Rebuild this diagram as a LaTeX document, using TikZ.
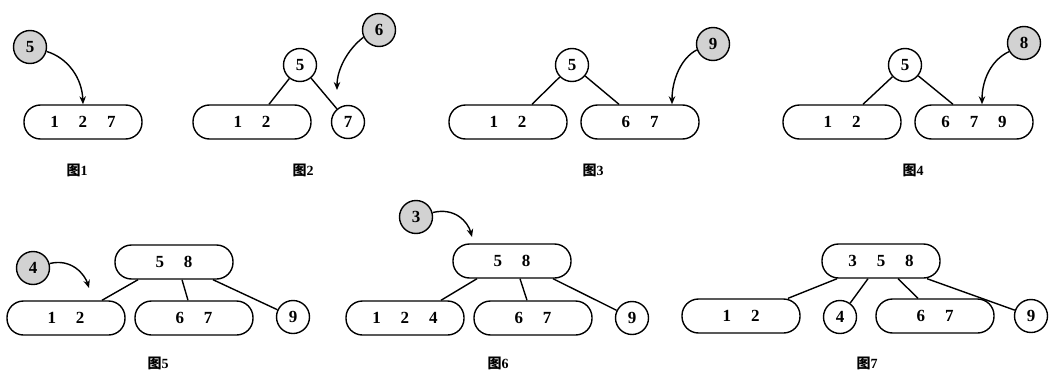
\documentclass[tikz,border=0pt]{standalone}
\usepackage{fontspec}
\setmainfont{Liberation Serif}
\newfontfamily\cjk{Noto Sans CJK SC}
\usetikzlibrary{arrows.meta,calc}
\begin{document}
\begin{tikzpicture}[x=1pt,y=-1pt,
  keybox/.style={draw, line width=1.4pt, rounded corners=16.5pt, minimum width=118pt, minimum height=34pt, inner sep=0pt, font=\fontsize{17}{17}\selectfont\bfseries},
  keycirc/.style={draw, circle, line width=1.4pt, minimum size=33pt, inner sep=0pt, font=\fontsize{17}{17}\selectfont\bfseries},
  newkey/.style={keycirc, fill=gray!35},
  edgeline/.style={line width=1.4pt},
  insarrow/.style={line width=1.4pt, -{Stealth[length=8pt,width=6.5pt]}},
  captext/.style={font=\fontsize{14}{14}\selectfont\bfseries}
]
\newcommand{\sep}{\hspace{20pt}}
\newcommand{\tu}[1]{{\cjk 图}#1}
\useasboundingbox (0,0) rectangle (1049,372);
% ---------- Fig 1
\node[newkey] (n1) at (30,47) {5};
\node[keybox] (b1) at (83,122) {1\sep2\sep7};
\draw[insarrow] (n1.-15) .. controls (68,58) and (82,78) .. (b1.north);
\node[captext] (f1) at (77,170) {\tu{1}};
% ---------- Fig 2
\node[newkey] (n2) at (379,30) {6};
\node[keycirc] (c2) at (300,65) {5};
\node[keybox] (b2) at (252,122) {1\sep2};
\node[keycirc] (c2b) at (348,122) {7};
\draw[edgeline] (c2) -- ($(b2.north)+(17,0)$);
\draw[edgeline] (c2) -- (c2b);
\coordinate (a2) at (337,90);
\draw[insarrow] (n2.205) .. controls (347,50) and (337,70) .. (a2);
\node[captext] (f2) at (303,170) {\tu{2}};
% ---------- Fig 3
\node[newkey] (n3) at (713,44) {9};
\node[keycirc] (c3) at (572,65) {5};
\node[keybox] (b3l) at (508,122) {1\sep2};
\node[keybox] (b3r) at (640,122) {6\sep7};
\draw[edgeline] (c3) -- ($(b3l.north)+(24,0)$);
\draw[edgeline] (c3) -- ($(b3r.north)+(-21,0)$);
\draw[insarrow] (n3.200) .. controls (681,58) and (672,80) .. ($(b3r.north)+(32,0)$);
\node[captext] (f3) at (593,170) {\tu{3}};
% ---------- Fig 4
\node[newkey] (n4) at (1024,43) {8};
\node[keycirc] (c4) at (905,65) {5};
\node[keybox] (b4l) at (842,122) {1\sep2};
\node[keybox] (b4r) at (974,122) {6\sep7\sep9};
\draw[edgeline] (c4) -- ($(b4l.north)+(21,0)$);
\draw[edgeline] (c4) -- ($(b4r.north)+(-21,0)$);
\draw[insarrow] (n4.210) .. controls (991,60) and (982,80) .. ($(b4r.north)+(8,0)$);
\node[captext] (f4) at (913,170) {\tu{4}};
% ---------- Fig 5
\node[newkey] (n5) at (33,268) {4};
\node[keybox] (t5) at (174,262) {5\sep8};
\node[keybox] (l5) at (66,318) {1\sep2};
\node[keybox] (m5) at (194,318) {6\sep7};
\node[keycirc] (r5) at (293,317) {9};
\draw[edgeline] ($(t5.south)+(-36,0)$) -- ($(l5.north)+(36,0)$);
\draw[edgeline] ($(t5.south)+(8,0)$) -- ($(m5.north)+(-6,0)$);
\draw[edgeline] ($(t5.south)+(39,0)$) -- (r5);
\coordinate (a5) at (89,288);
\draw[insarrow] (n5.15) .. controls (72,258) and (85,275) .. (a5);
\node[captext] (f5) at (158,363) {\tu{5}};
% ---------- Fig 6
\node[newkey] (n6) at (416,217) {3};
\node[keybox] (t6) at (512,261) {5\sep8};
\node[keybox] (l6) at (405,318) {1\sep2\sep4};
\node[keybox] (m6) at (533,318) {6\sep7};
\node[keycirc] (r6) at (632,318) {9};
\draw[edgeline] ($(t6.south)+(-35,0)$) -- ($(l6.north)+(36,0)$);
\draw[edgeline] ($(t6.south)+(8,0)$) -- ($(m6.north)+(-6,0)$);
\draw[edgeline] ($(t6.south)+(41,0)$) -- (r6);
\coordinate (a6) at (472,237);
\draw[insarrow] (n6.15) .. controls (455,207) and (468,222) .. (a6);
\node[captext] (f6) at (498,363) {\tu{6}};
% ---------- Fig 7
\node[keybox] (t7) at (881,261) {3\sep5\sep8};
\node[keybox] (l7) at (741,316) {1\sep2};
\node[keycirc] (c7) at (840,317) {4};
\node[keybox] (m7) at (935,316) {6\sep7};
\node[keycirc] (r7) at (1031,316) {9};
\draw[edgeline] ($(t7.south)+(-44,0)$) -- ($(l7.north)+(47,0)$);
\draw[edgeline] ($(t7.south)+(-13,0)$) -- (c7);
\draw[edgeline] ($(t7.south)+(17,0)$) -- ($(m7.north)+(-17,0)$);
\draw[edgeline] ($(t7.south)+(46,0)$) -- (r7);
\node[captext] (f7) at (867,363) {\tu{7}};
\end{tikzpicture}
\end{document}
